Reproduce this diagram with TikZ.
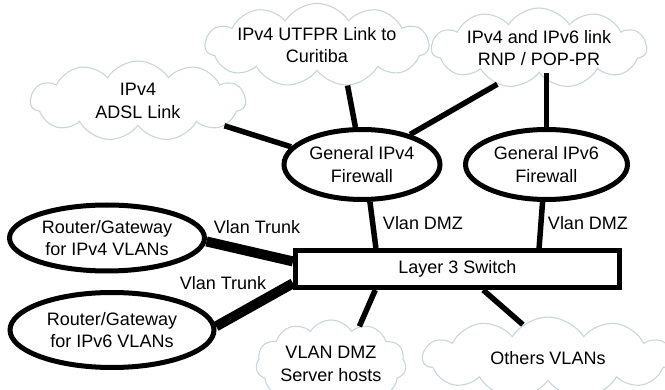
\documentclass[tikz,border=0pt]{standalone}
\usepackage{fontspec}
\setmainfont{Liberation Sans}
\usetikzlibrary{shapes.geometric,shapes.symbols,calc}
\definecolor{cloudedge}{RGB}{200,214,218}
\begin{document}
\begin{tikzpicture}[x=1pt,y=-1pt,
  font=\fontsize{18}{22.5}\selectfont,
  netcloud/.style={cloud, cloud puffs=11, cloud puff arc=115, cloud ignores aspect,
    draw=cloudedge, line width=1.1pt, fill=white, align=center, inner sep=0pt},
  device/.style={ellipse, draw, line width=5pt, fill=white, align=center, inner sep=0pt},
  switchbox/.style={rectangle, draw, line width=5pt, fill=white, inner sep=0pt},
  link/.style={line width=5.5pt},
  trunk/.style={line width=10pt},
  lbl/.style={inner sep=0pt}]
\useasboundingbox (0,0) rectangle (665,390);
\clip (0,0) rectangle (665,390);

% external links and networks
\node[netcloud, minimum width=215, minimum height=80] (adsl) at (138,101) {IPv4\\ADSL Link};
\node[netcloud, minimum width=213, minimum height=78] (utfpr) at (317,45) {IPv4 UTFPR Link to\\Curitiba};
\node[netcloud, minimum width=215, minimum height=74] (rnp) at (539,48) {IPv4 and IPv6 link\\RNP / POP-PR};
\node[netcloud, minimum width=150, minimum height=88] (dmz) at (331,364) {VLAN DMZ\\Server hosts};
\node[netcloud, minimum width=250, minimum height=82] (others) at (548,358) {Others VLANs};

% firewalls, routers and the core switch
\node[device, minimum width=156, minimum height=70] (fw4) at (362,164.5) {General IPv4\\Firewall};
\node[device, minimum width=162, minimum height=70] (fw6) at (546.5,164.5) {General IPv6\\Firewall};
\node[device, minimum width=195, minimum height=66] (r4) at (107,238) {Router/Gateway\\for IPv4 VLANs};
\node[device, minimum width=204, minimum height=75] (r6) at (112,330) {Router/Gateway\\for IPv6 VLANs};
\node[switchbox, minimum width=324, minimum height=37] (sw) at (457.5,269) {Layer 3 Switch};

% uplinks
\draw[link] (adsl.-16) -- (fw4.166.3);
\draw[link] (utfpr.-53) -- (fw4.100.6);
\draw[link] (rnp.221.7) -- (fw4.32.2);
\draw[link] (fw6.north) -- (fw6.north |- rnp.south);

% DMZ links
\draw[link] (fw4.-78) -- ($(sw.north west)!0.252!(sw.north east)$);
\draw[link] (fw6.-96.8) -- ($(sw.north west)!0.748!(sw.north east)$);
\node[lbl] (dmz4) at (423,223) {Vlan DMZ};
\node[lbl] (dmz6) at (588,223) {Vlan DMZ};

% trunks to the routers
\draw[trunk] (r4.-2.6) -- ($(sw.north west)!0.32!(sw.south west)$);
\draw[trunk] (r6.2.8) -- ($(sw.north west)!0.84!(sw.south west)$);
\node[lbl] (trunk4) at (257,227) {Vlan Trunk};
\node[lbl] (trunk6) at (223,283) {Vlan Trunk};

% switch to the local networks
\draw[link] ($(sw.south west)!0.25!(sw.south east)$) -- (dmz.53.4);
\draw[link] ($(sw.south west)!0.578!(sw.south east)$) -- (others.127);
\end{tikzpicture}
\end{document}
